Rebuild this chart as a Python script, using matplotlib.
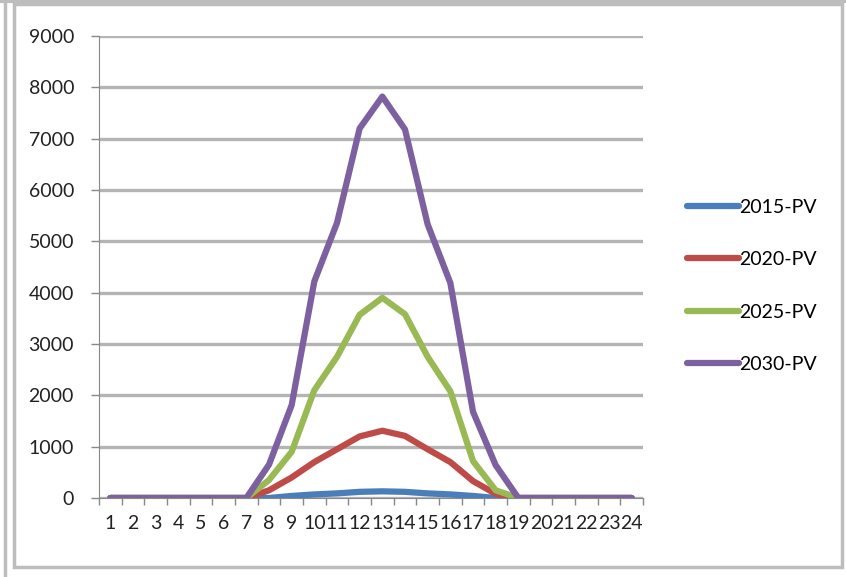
import matplotlib.pyplot as plt
from matplotlib.lines import Line2D
from matplotlib.patches import Rectangle

plt.rcParams['font.family'] = ['Lato', 'DejaVu Sans']

hours = list(range(1, 25))
pv_2015 = [0, 0, 0, 0, 0, 0, 0, 0, 40, 70, 90, 120, 130, 120, 90, 70, 40, 0, 0, 0, 0, 0, 0, 0]
pv_2020 = [0, 0, 0, 0, 0, 0, 0, 150, 400, 700, 950, 1200, 1310, 1210, 950, 700, 330, 80, 0, 0, 0, 0, 0, 0]
pv_2025 = [0, 0, 0, 0, 0, 0, 0, 350, 900, 2100, 2750, 3570, 3900, 3580, 2750, 2080, 720, 150, 0, 0, 0, 0, 0, 0]
pv_2030 = [0, 0, 0, 0, 0, 0, 0, 650, 1810, 4220, 5360, 7200, 7820, 7180, 5330, 4190, 1680, 640, 0, 0, 0, 0, 0, 0]
labels = ['2015-PV', '2020-PV', '2025-PV', '2030-PV']
colors = ['#4a7ebb', '#be4b48', '#98b954', '#7d60a0']

fig = plt.figure(figsize=(8.46, 5.77), dpi=100)
ax = fig.add_axes([99 / 846, 1 - 498 / 577, 544 / 846, 462 / 577])

for ys, lab, c in zip([pv_2015, pv_2020, pv_2025, pv_2030], labels, colors):
    ax.plot(hours, ys, color=c, lw=4.5, label=lab, solid_capstyle='round', solid_joinstyle='round')

ax.set_xlim(0.5, 24.5)
ax.set_ylim(0, 9000)
ax.set_yticks(range(0, 9001, 1000))
ax.set_xticks(hours)
ax.set_xticks([h + 0.5 for h in range(0, 25)], minor=True)
ax.tick_params(axis='x', which='major', length=0, pad=12, labelsize=14, labelcolor='#222222')
ax.tick_params(axis='x', which='minor', length=5, width=1, color='#888888', direction='out')
ax.tick_params(axis='y', length=6, width=1, color='#888888', pad=12, labelsize=14, labelcolor='#222222')
ax.grid(axis='y', color='#b4b4b4', lw=2.4)
ax.set_axisbelow(True)
for s in ['top', 'right']:
    ax.spines[s].set_visible(False)
ax.spines['left'].set_color('#888888')
ax.spines['bottom'].set_color('#888888')

handles = [Line2D([], [], color=c, lw=4.5, solid_capstyle='round') for c in colors]
fig.legend(handles, labels, loc='upper left', bbox_to_anchor=(679 / 846, 1 - 191 / 577),
           frameon=False, fontsize=14, handlelength=2.7, handletextpad=0.0,
           labelspacing=1.82, borderaxespad=0)

# chart frame
fig.add_artist(Rectangle((14 / 846, 1 - 567 / 577), 828 / 846, 563 / 577,
                         transform=fig.transFigure, fill=False, ec='#bdbdbd', lw=2.5))
fig.add_artist(Line2D([5 / 846, 5 / 846], [0, 1], transform=fig.transFigure, color='#bdbdbd', lw=2.5))
fig.add_artist(Line2D([0, 1], [1 - 1 / 577, 1 - 1 / 577], transform=fig.transFigure, color='#bdbdbd', lw=3))

fig.savefig('out.png', dpi=100)
